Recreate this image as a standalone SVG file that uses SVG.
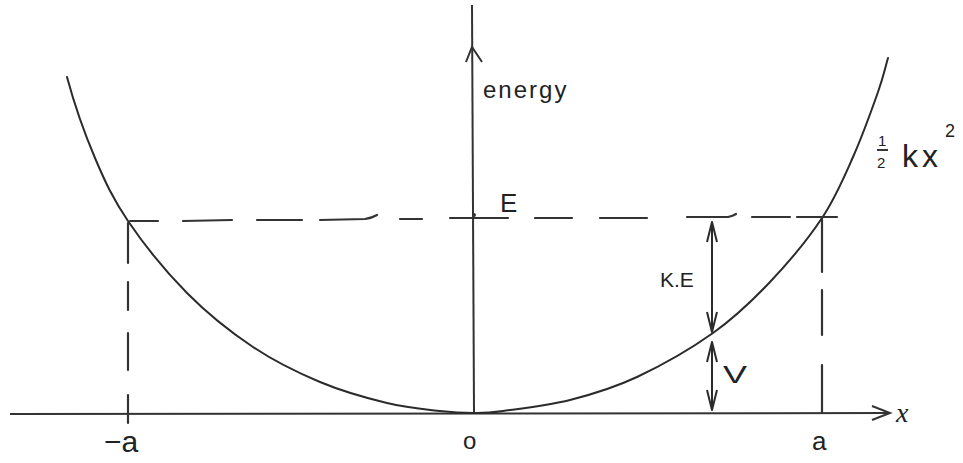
<svg xmlns="http://www.w3.org/2000/svg" width="963" height="463" viewBox="0 0 963 463">
<defs>
<style>
.ln{stroke:#2b2b2b;stroke-width:2;fill:none;stroke-linecap:round}
.ax{stroke:#333;stroke-width:2;fill:none}
.ds{stroke:#333;stroke-width:2.2;fill:none;stroke-linecap:round}
.t{font-family:"Liberation Sans",Arial,sans-serif;fill:#222}
.ti{font-family:"Liberation Serif","Times New Roman",serif;font-style:italic;fill:#222}
</style>
<marker id="chev" viewBox="0 0 24 12" refX="23" refY="6" markerWidth="24" markerHeight="12" markerUnits="userSpaceOnUse" orient="auto-start-reverse">
<path d="M3,1 L23,6 L3,11" fill="none" stroke="#2b2b2b" stroke-width="2"/>
</marker>
</defs>
<rect width="963" height="463" fill="#fff"/>

<g id="axes">
<line class="ax" x1="10" y1="414" x2="889" y2="413"/>
<path class="ax" d="M872,406 L890,413 L872,420"/>
<line class="ax" x1="472" y1="5" x2="474" y2="413"/>
<path class="ax" d="M466,62 L472,47 L482,62"/>
</g>

<g id="curve">
<path class="ln" d="M67,77 C74,103 84.8,134 95,158 C105.2,182 112.7,198.5 128,221 C143.3,243.5 166.2,272 187,293 C207.8,314 230.8,332.2 253,347 C275.2,361.8 297.7,372.7 320,382 C342.3,391.3 367,398.2 387,403 C407,407.8 425.5,409.3 440,411 C454.5,412.7 463.5,413 474,413 C484.5,413 487,413.2 503,411 C519,408.8 547.7,405.7 570,400 C592.3,394.3 613.2,388.2 637,377 C660.8,365.8 690.8,348.8 713,333 C735.2,317.2 751.8,301.2 770,282 C788.2,262.8 808.2,238.8 822,218 C835.8,197.2 843.7,178 853,157 C862.3,136 872.2,108.5 878,92 C883.8,75.5 884.7,69.3 888,58"/>
</g>

<g id="energy-line">
<path class="ds" d="M130,221 L158,221 M183,221 L232,220 M257,220 L302,220 M320,220 L365,219 Q372,218 377,215 M400,219 L422,219 M450,218 L508,218 M535,218 L572,218 M600,218 L647,218 M687,217 L728,217 Q733,216 736,214 M752,217 L790,217 M797,217 L837,217"/>
<circle cx="474" cy="215" r="2" fill="#333"/>
</g>

<g id="dropline-left">
<path class="ds" d="M128,223 L128,263 M128,282 L128,310 M128,333 L128,370 M128,395 L128,423"/>
</g>

<g id="dropline-right">
<path class="ds" d="M822,218 L822,272 M822,290 L822,335 M822,365 L822,413"/>
</g>

<g id="connectors">
<line class="ln" x1="712" y1="222" x2="712" y2="332" marker-start="url(#chev)" marker-end="url(#chev)"/>
<line class="ln" x1="712" y1="342" x2="712" y2="410" marker-start="url(#chev)" marker-end="url(#chev)"/>
</g>

<g id="labels">
<text class="t" x="483" y="98" font-size="24" letter-spacing="2">energy</text>
<text class="t" x="500" y="212" font-size="26">E</text>
<text class="t" x="660" y="287" font-size="21">K.E</text>
<text class="t" x="723" y="383" font-size="24" textLength="24" lengthAdjust="spacingAndGlyphs">V</text>
<text class="t" x="104" y="452" font-size="30">−a</text>
<text class="t" x="463" y="449" font-size="24">o</text>
<text class="t" x="812" y="450" font-size="26">a</text>
<text class="ti" x="896" y="422" font-size="28">x</text>
</g>

<g id="formula">
<text class="t" x="878" y="146" font-size="15">1</text>
<line x1="877" y1="150" x2="888" y2="150" stroke="#222" stroke-width="1.8"/>
<text class="t" x="877" y="168" font-size="15">2</text>
<text class="t" x="902" y="167" font-size="32" letter-spacing="4">kx</text>
<text class="t" x="945" y="137" font-size="18">2</text>
</g>
</svg>
